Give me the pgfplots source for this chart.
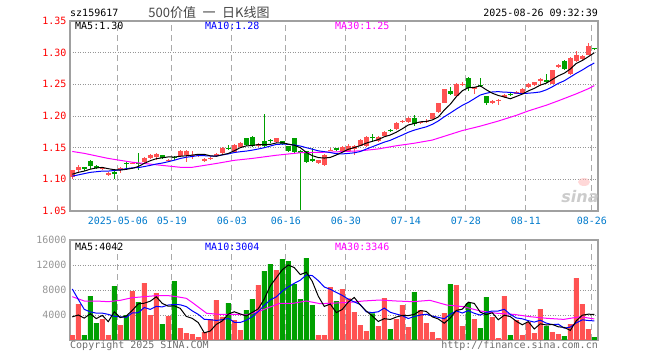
\documentclass[border=0pt]{standalone}
\usepackage{pgfplots}
\pgfplotsset{compat=1.18}
\usepackage{pgfplotstable}
\usepackage{fontspec}
\setmainfont{DejaVu Sans Mono}
\newfontfamily\mono{DejaVu Sans Mono}
\newfontfamily\cjk{Noto Sans CJK SC}
\newfontfamily\sinaf{DejaVu Sans}
\newcommand\lbl{\mono\fontsize{10bp}{12bp}\selectfont}

\definecolor{cred}{RGB}{255,82,82}
\definecolor{cgreen}{RGB}{0,160,0}
\definecolor{dateblue}{RGB}{0,122,204}
\definecolor{framegray}{RGB}{160,160,160}
\definecolor{gridgray}{RGB}{170,170,170}
\definecolor{volgray}{RGB}{150,150,150}
\definecolor{footgray}{RGB}{110,110,110}
\definecolor{mablue}{RGB}{0,0,255}
\definecolor{mamag}{RGB}{255,0,255}
\definecolor{titlegray}{RGB}{70,70,70}

% red (up) candles: index open high low close volume
\pgfplotstableread{
i o h l c v
0 1.104 1.115 1.101 1.114 800
1 1.114 1.122 1.112 1.120 5760
5 1.116 1.119 1.115 1.118 3360
6 1.107 1.111 1.106 1.110 800
8 1.114 1.119 1.110 1.118 2400
10 1.125 1.127 1.124 1.126 7840
12 1.127 1.136 1.125 1.134 9120
13 1.134 1.140 1.132 1.139 4000
14 1.135 1.141 1.130 1.140 7520
16 1.129 1.132 1.128 1.131 3840
18 1.137 1.146 1.136 1.145 1920
19 1.139 1.146 1.128 1.144 1120
20 1.137 1.144 1.132 1.138 960
21 1.137 1.140 1.135 1.138 480
22 1.129 1.133 1.127 1.132 1280
23 1.133 1.135 1.130 1.134 3360
24 1.137 1.141 1.136 1.140 6400
25 1.141 1.151 1.140 1.150 3700
27 1.143 1.155 1.142 1.154 3200
28 1.151 1.159 1.150 1.158 1600
31 1.153 1.157 1.151 1.156 8800
34 1.159 1.166 1.158 1.165 11200
41 1.125 1.131 1.124 1.130 800
42 1.122 1.140 1.121 1.139 800
43 1.146 1.149 1.144 1.147 8480
45 1.144 1.152 1.143 1.151 8160
46 1.144 1.155 1.143 1.153 6670
47 1.148 1.154 1.139 1.153 4480
48 1.153 1.163 1.152 1.162 2400
49 1.152 1.168 1.151 1.167 1440
51 1.160 1.168 1.159 1.167 2240
52 1.169 1.176 1.168 1.175 6720
54 1.179 1.190 1.178 1.189 3360
55 1.191 1.194 1.189 1.192 5600
56 1.190 1.199 1.189 1.197 2080
58 1.189 1.191 1.188 1.190 4800
59 1.191 1.195 1.189 1.192 2720
60 1.196 1.205 1.195 1.204 1280
61 1.206 1.221 1.205 1.220 320
62 1.221 1.243 1.220 1.242 4320
64 1.231 1.252 1.230 1.251 8800
65 1.250 1.254 1.248 1.251 2240
67 1.244 1.245 1.235 1.245 3360
70 1.220 1.225 1.219 1.224 3680
71 1.225 1.227 1.218 1.226 320
72 1.230 1.234 1.229 1.233 7040
74 1.235 1.239 1.234 1.238 3200
75 1.235 1.244 1.234 1.243 800
76 1.245 1.252 1.244 1.251 2880
77 1.249 1.254 1.248 1.253 1120
78 1.255 1.260 1.248 1.259 4960
80 1.251 1.273 1.250 1.272 1280
81 1.277 1.282 1.276 1.280 960
83 1.266 1.293 1.265 1.292 2560
84 1.287 1.302 1.286 1.297 9920
85 1.290 1.296 1.289 1.295 5760
86 1.297 1.315 1.296 1.310 1760
}\redtab

% green (down) candles
\pgfplotstableread{
i o h l c v
2 1.119 1.120 1.113 1.117 800
3 1.129 1.130 1.117 1.121 7040
4 1.121 1.122 1.116 1.118 2720
7 1.112 1.113 1.101 1.109 8640
9 1.125 1.127 1.118 1.124 4000
11 1.126 1.142 1.114 1.124 6080
15 1.138 1.139 1.132 1.133 2560
17 1.134 1.137 1.130 1.133 9440
26 1.150 1.154 1.146 1.148 5920
29 1.165 1.166 1.153 1.154 4800
30 1.167 1.168 1.152 1.153 6560
32 1.160 1.203 1.151 1.152 11040
33 1.162 1.164 1.158 1.161 12160
35 1.160 1.161 1.154 1.155 12960
36 1.152 1.153 1.144 1.145 12640
37 1.165 1.166 1.142 1.143 8960
38 1.145 1.146 1.051 1.142 6560
39 1.144 1.145 1.125 1.128 13120
40 1.132 1.150 1.128 1.129 5600
44 1.149 1.150 1.146 1.147 6240
50 1.166 1.171 1.159 1.165 4270
53 1.177 1.179 1.174 1.176 1760
57 1.197 1.201 1.184 1.187 7680
63 1.240 1.246 1.233 1.235 8960
66 1.260 1.261 1.239 1.244 5920
68 1.248 1.260 1.246 1.247 1920
69 1.231 1.232 1.217 1.220 6880
73 1.235 1.236 1.232 1.233 800
79 1.257 1.267 1.252 1.253 2240
82 1.287 1.288 1.273 1.274 640
87 1.307 1.308 1.304 1.305 480
}\greentab

% price moving averages (MA5, MA10)
\pgfplotstableread{
i m5 m10
0 1.108 1.105
1 1.111 1.107
2 1.113 1.109
3 1.116 1.111
4 1.1180 1.112
5 1.1188 1.113
6 1.1168 1.113
7 1.1152 1.114
8 1.1146 1.115
9 1.1158 1.1169
10 1.1174 1.1181
11 1.1202 1.1185
12 1.1252 1.1202
13 1.1294 1.1220
14 1.1326 1.1242
15 1.1340 1.1257
16 1.1354 1.1278
17 1.1352 1.1302
18 1.1364 1.1329
19 1.1372 1.1349
20 1.1382 1.1361
21 1.1396 1.1375
22 1.1394 1.1373
23 1.1372 1.1368
24 1.1364 1.1368
25 1.1388 1.1385
26 1.1408 1.1402
27 1.1452 1.1423
28 1.1500 1.1436
29 1.1528 1.1446
30 1.1534 1.1461
31 1.1550 1.1479
32 1.1546 1.1499
33 1.1552 1.1526
34 1.1574 1.1551
35 1.1578 1.1556
36 1.1556 1.1553
37 1.1538 1.1542
38 1.1500 1.1526
39 1.1426 1.1500
40 1.1374 1.1476
41 1.1344 1.1450
42 1.1336 1.1437
43 1.1346 1.1423
44 1.1384 1.1405
45 1.1428 1.1401
46 1.1474 1.1409
47 1.1502 1.1419
48 1.1532 1.1439
49 1.1572 1.1478
50 1.1600 1.1514
51 1.1628 1.1551
52 1.1672 1.1587
53 1.1700 1.1616
54 1.1744 1.1658
55 1.1798 1.1699
56 1.1858 1.1743
57 1.1882 1.1777
58 1.1908 1.1804
59 1.1914 1.1829
60 1.1938 1.1868
61 1.1984 1.1921
62 1.2094 1.1988
63 1.2186 1.2047
64 1.2304 1.2109
65 1.2398 1.2168
66 1.2446 1.2215
67 1.2452 1.2273
68 1.2476 1.2331
69 1.2414 1.2359
70 1.2360 1.2379
71 1.2324 1.2385
72 1.2300 1.2376
73 1.2272 1.2374
74 1.2308 1.2361
75 1.2346 1.2353
76 1.2396 1.2360
77 1.2436 1.2368
78 1.2488 1.2380
79 1.2518 1.2413
80 1.2576 1.2461
81 1.2634 1.2515
82 1.2676 1.2556
83 1.2742 1.2615
84 1.2830 1.2674
85 1.2876 1.2726
86 1.2936 1.2785
87 1.2998 1.2837
}\matab

% volume moving averages (MA5, MA10)
\pgfplotstableread{
i v5 v10
0 3700 8160
1 4000 6500
2 3500 4900
3 4200 4500
4 3424 4300
5 3936 4300
6 2944 4100
7 4512 3800
8 3584 3700
9 3840 3632
10 4736 4336
11 5792 4368
12 5888 5200
13 6208 4896
14 6912 5376
15 5856 5296
16 5408 5600
17 5472 5680
18 5056 5632
19 3776 5344
20 3456 4656
21 2784 4096
22 1152 3312
23 1440 3248
24 2496 3136
25 3044 3250
26 4132 3458
27 4516 2834
28 4164 2802
29 3844 3170
30 4416 3730
31 4992 4562
32 6560 5538
33 8672 6418
34 9952 6898
35 11232 7824
36 12000 8496
37 11584 9072
38 10464 9568
39 10848 10400
40 9376 10304
41 7008 9504
42 5376 8480
43 5760 8112
44 4384 7616
45 4896 7136
46 6070 6539
47 6806 6091
48 5590 5675
49 4630 4507
50 3852 4374
51 2966 4518
52 3414 5110
53 3286 4438
54 3670 4150
55 3936 3894
56 3904 3435
57 4096 3755
58 4704 3995
59 4576 4123
60 3712 3824
61 3360 3632
62 2688 3392
63 3520 4112
64 4736 4656
65 4928 4320
66 6048 4704
67 5856 4272
68 4448 3984
69 4064 4400
70 4352 4640
71 3232 4640
72 3968 4912
73 3744 4096
74 3008 3536
75 2432 3392
76 2944 3088
77 1760 2864
78 2592 3168
79 2400 2704
80 2496 2464
81 2112 2528
82 2016 1888
83 1536 2064
84 3072 2736
85 3968 3232
86 4128 3120
87 4096 3056
}\vmatab

\pgfplotsset{
  sinabase/.style={
    anchor=south west, scale only axis, width=528bp,
    xmin=-0.38, xmax=87.62,
    axis line style={draw=framegray, line width=1.1bp},
    major tick length=0pt,
    xtick={7.6,16.6,26.6,35.6,45.6,55.6,65.6,75.6,86.6},
    xmajorgrids, ymajorgrids,
    x grid style={draw=gridgray, line width=1.1bp, dash pattern=on 6bp off 4bp},
    y grid style={draw=volgray, line width=0.9bp, dash pattern=on 1bp off 1.5bp},
  },
  candle/.style={draw=none, mark=none,
    error bars/.cd, y dir=both, y explicit, error mark=none,
    error bar style={draw=#1, line width=1bp, solid}},
  body/.style={draw=none, mark=none,
    error bars/.cd, y dir=both, y explicit, error mark=none,
    error bar style={draw=#1, line width=5bp, solid}},
}

\begin{document}
\begin{tikzpicture}
\path[use as bounding box] (0,0) rectangle (660bp,360bp);

% ---------- price panel ----------
\begin{axis}[sinabase,
  at={(70bp,149bp)}, height=190bp,
  ymin=1.05, ymax=1.35,
  ytick={1.05,1.10,1.15,1.20,1.25,1.30,1.35},
  yticklabel style={font=\lbl, text=red,
    /pgf/number format/fixed, /pgf/number format/fixed zerofill,
    /pgf/number format/precision=2, /pgf/number format/assume math mode=true},
  xticklabels={2025-05-06,05-19,06-03,06-16,06-30,07-14,07-28,08-11,08-26},
  xticklabel style={font=\lbl, text=dateblue, yshift=-2.5bp},
]
% wicks
\addplot[candle=cred] table[x=i, y=c,
  y error plus expr={\thisrow{h}-\thisrow{c}},
  y error minus expr={\thisrow{c}-\thisrow{l}}] {\redtab};
\addplot[candle=cgreen] table[x=i, y=c,
  y error plus expr={\thisrow{h}-\thisrow{c}},
  y error minus expr={\thisrow{c}-\thisrow{l}}] {\greentab};
% bodies
\addplot[body=cred] table[x=i, y=c,
  y error plus expr={0},
  y error minus expr={max(\thisrow{c}-\thisrow{o},0.0016)}] {\redtab};
\addplot[body=cgreen] table[x=i, y=c,
  y error plus expr={max(\thisrow{o}-\thisrow{c},0.0016)},
  y error minus expr={0}] {\greentab};
% moving averages
\addplot[mamag, line width=1bp, mark=none] coordinates {
(0,1.144) (2,1.141) (4,1.137) (6,1.133) (8,1.130) (10,1.127) (12,1.125) (14,1.123)
(16,1.121) (18,1.119) (20,1.119) (22,1.122) (24,1.125) (27,1.130) (30,1.133)
(34,1.138) (38,1.142) (43,1.143) (48,1.145) (51,1.148) (54,1.153) (57,1.157)
(60,1.162) (62,1.168) (65,1.177) (68,1.184) (71,1.192) (74,1.201) (76,1.208)
(79,1.217) (81,1.224) (84,1.235) (86,1.243) (87,1.248)};
\addplot[mablue, line width=1bp, mark=none] table[x=i, y=m10] {\matab};
\addplot[black, line width=1bp, mark=none] table[x=i, y=m5] {\matab};
\end{axis}

% ---------- volume panel ----------
\begin{axis}[sinabase,
  at={(70bp,20bp)}, height=100bp,
  ymin=0, ymax=16000,
  ytick={4000,8000,12000,16000},
  scaled y ticks=false,
  yticklabel style={font=\lbl, text=volgray,
    /pgf/number format/1000 sep={}, /pgf/number format/assume math mode=true},
  xticklabels={},
]
\addplot[ybar, bar width=5bp, bar shift=0pt, fill=cred, draw=none] table[x=i, y=v] {\redtab};
\addplot[ybar, bar width=5bp, bar shift=0pt, fill=cgreen, draw=none] table[x=i, y=v] {\greentab};
\addplot[mamag, line width=1bp, mark=none] coordinates {
(0,6930) (2,6240) (4,6240) (6,6130) (8,6350) (10,6770) (12,6930) (14,7100) (16,7100)
(17.4,6930) (19,6670) (20,6000) (21.3,5070) (22.4,4270) (24.6,4100) (28,4100) (29,4000)
(31.3,4640) (32.4,5070) (34.6,5870) (36.8,5870) (39,6240) (41.3,5810) (43,5870)
(46.3,6030) (48.5,6240) (51.3,6400) (54,6240) (56.8,6130) (59.6,6350) (62.4,5600)
(65.2,5330) (68,4640) (70.8,4270) (73.6,4100) (76.3,3730) (79.1,3470) (81.9,3300)
(84.7,3730) (87,3360)};
\addplot[mablue, line width=1bp, mark=none] table[x=i, y=v10] {\vmatab};
\addplot[black, line width=1bp, mark=none] table[x=i, y=v5] {\vmatab};
\end{axis}

% ---------- texts ----------
\node[anchor=west, inner sep=0, font=\lbl] at (70bp,347bp) {sz159617};
\node[inner sep=0, font=\cjk\fontsize{13bp}{15bp}\selectfont, text=titlegray] at (209bp,347bp) {500价值\hspace{0.5em}一\hspace{0.5em}日K线图};
\node[anchor=east, inner sep=0, font=\lbl] at (598bp,347bp) {2025-08-26 09:32:39};

\node[anchor=west, inner sep=0, font=\lbl] at (75bp,334bp) {MA5:1.30};
\node[anchor=west, inner sep=0, font=\lbl, text=mablue] at (205bp,334bp) {MA10:1.28};
\node[anchor=west, inner sep=0, font=\lbl, text=mamag] at (335bp,334bp) {MA30:1.25};

\node[anchor=west, inner sep=0, font=\lbl] at (75bp,113bp) {MA5:4042};
\node[anchor=west, inner sep=0, font=\lbl, text=mablue] at (205bp,113bp) {MA10:3004};
\node[anchor=west, inner sep=0, font=\lbl, text=mamag] at (335bp,113bp) {MA30:3346};

\node[anchor=west, inner sep=0, font=\lbl, text=footgray] at (70bp,14bp) {Copyright 2025 SINA.COM};
\node[anchor=east, inner sep=0, font=\lbl, text=footgray] at (598bp,14bp) {http://finance.sina.com.cn};

% sina watermark
\fill[red!30, opacity=0.5] (584bp,178bp) ellipse (6bp and 4bp);
\node[inner sep=0, font=\sinaf\bfseries\itshape\fontsize{16bp}{16bp}\selectfont, text=gray!40] at (580bp,163bp) {sina};
\end{tikzpicture}
\end{document}
